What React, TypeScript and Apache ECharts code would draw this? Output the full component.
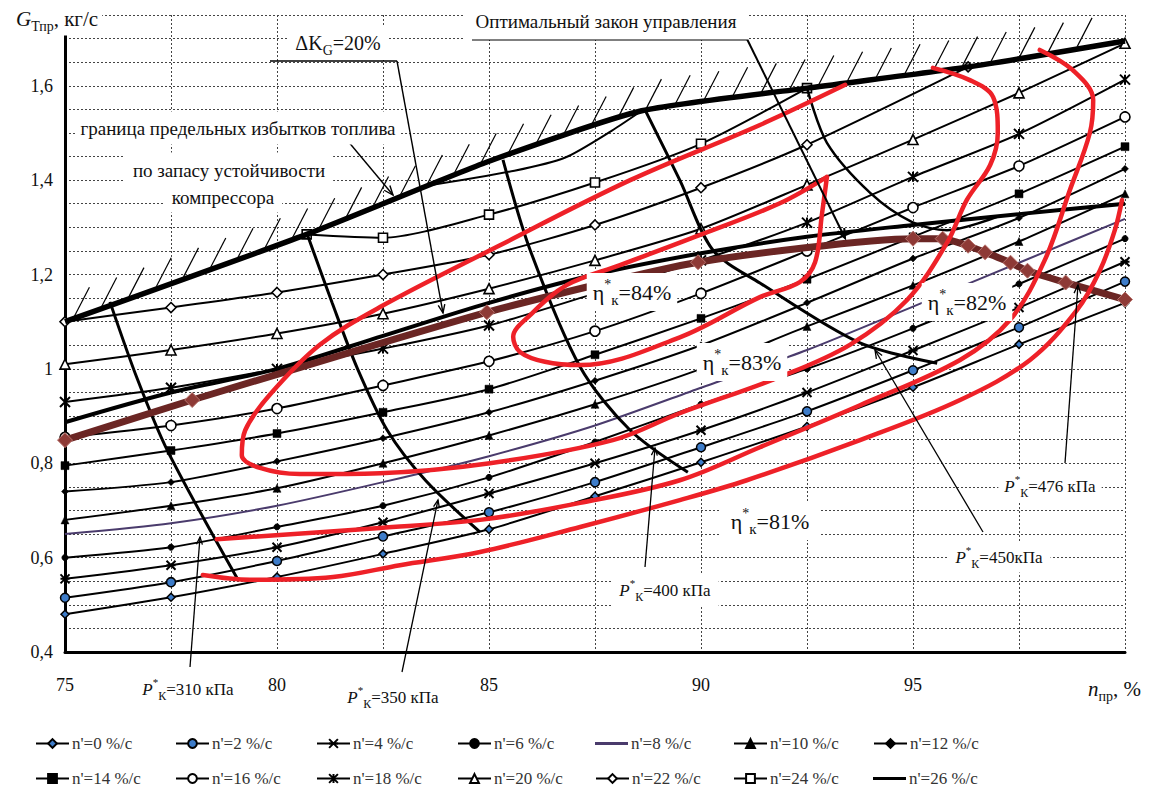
import React, { useEffect, useRef } from 'react';
import * as echarts from 'echarts';

const FONT = 'Liberation Serif';

// ---- n' series (relative speed of throttle), x = n_пр %, y = G_Тпр кг/с
const nX = [75, 77.5, 80, 82.5, 85, 87.5, 90, 92.5, 95, 97.5, 100];
const n0 = [0.48, 0.516, 0.559, 0.608, 0.66, 0.73, 0.802, 0.878, 0.961, 1.052, 1.14];
const n2 = [0.515, 0.548, 0.593, 0.645, 0.696, 0.76, 0.834, 0.91, 0.997, 1.088, 1.185];
const n4 = [0.555, 0.584, 0.622, 0.675, 0.736, 0.8, 0.87, 0.95, 1.039, 1.13, 1.227];
const n6 = [0.6, 0.622, 0.665, 0.71, 0.77, 0.845, 0.925, 1.0, 1.086, 1.18, 1.276];
const n8 = [0.65, 0.673, 0.71, 0.76, 0.815, 0.88, 0.96, 1.04, 1.132, 1.225, 1.318];
const n10 = [0.68, 0.71, 0.747, 0.8, 0.859, 0.925, 1.0, 1.09, 1.177, 1.27, 1.371];
const n12 = [0.74, 0.76, 0.804, 0.853, 0.908, 0.975, 1.05, 1.14, 1.234, 1.32, 1.424];
const n14 = [0.795, 0.827, 0.863, 0.908, 0.957, 1.03, 1.107, 1.19, 1.28, 1.371, 1.471];
const n16 = [0.855, 0.88, 0.916, 0.965, 1.016, 1.08, 1.16, 1.25, 1.342, 1.43, 1.534];
const n18 = [0.93, 0.96, 1.0, 1.043, 1.092, 1.16, 1.23, 1.31, 1.407, 1.498, 1.613];
const n20 = [1.01, 1.04, 1.075, 1.117, 1.17, 1.23, 1.297, 1.39, 1.486, 1.585, 1.69];
const n22X = [75, 77.5, 80, 82.5, 85, 87.5, 90, 92.5, 96.3];
const n22Y = [1.1, 1.13, 1.162, 1.2, 1.242, 1.305, 1.384, 1.475, 1.64];
const n24X = [80.7, 82.5, 85, 87.5, 90, 92.5];
const n24Y = [1.285, 1.278, 1.327, 1.395, 1.477, 1.595];
const n26X = [83.4, 85.6, 86.8, 87.9, 88.6];
const n26Y = [1.386, 1.42, 1.448, 1.505, 1.547];

const nNames = [
  "n'=0 %/с", "n'=2 %/с", "n'=4 %/с", "n'=6 %/с", "n'=8 %/с", "n'=10 %/с", "n'=12 %/с",
  "n'=14 %/с", "n'=16 %/с", "n'=18 %/с", "n'=20 %/с", "n'=22 %/с", "n'=24 %/с", "n'=26 %/с",
];

// ---- boundary, ΔK line, optimal law branch
const boundaryX = [75, 80.7, 85, 88.6, 92.5, 96.3, 100];
const boundaryY = [1.1, 1.285, 1.44, 1.547, 1.595, 1.64, 1.695];
const dKY = [0.887, 0.95, 1.0, 1.07, 1.14, 1.2, 1.245, 1.28, 1.305, 1.328, 1.35];
const optX = [92.5, 92.97, 93.99, 94.98, 95.8, 97.0];
const optY = [1.595, 1.479, 1.373, 1.311, 1.294, 1.323];

// ---- operating line (brown)
const brownX = [75, 78.0, 84.95, 89.93, 95, 95.7, 96.3, 96.7, 97.3, 97.7, 98.6, 100];
const brownY = [0.849, 0.934, 1.12, 1.226, 1.276, 1.276, 1.261, 1.247, 1.225, 1.208, 1.183, 1.147];

// ---- constant pressure lines
const p310X = [76.06, 76.7, 77.41, 79.08];
const p310Y = [1.142, 0.98, 0.828, 0.553];
const p350X = [80.71, 81.3, 81.9, 82.6, 83.5, 84.79];
const p350Y = [1.286, 1.14, 1.0, 0.87, 0.764, 0.654];
const p400X = [85.33, 85.97, 87.15, 88.33, 89.69];
const p400Y = [1.443, 1.252, 1.004, 0.87, 0.781];
const p450X = [88.68, 89.5, 90.28, 91.39, 93.75, 95.57];
const p450Y = [1.549, 1.4, 1.252, 1.182, 1.055, 1.012];

// ---- efficiency contours
const eta84X = [92.97, 91.86, 89.98, 88.09, 86.84, 85.97, 85.57, 85.73, 86.32, 87.15, 89.5, 91.39, 92.33, 92.69, 92.85, 92.97];
const eta84Y = [1.407, 1.351, 1.284, 1.22, 1.178, 1.114, 1.068, 1.036, 1.015, 1.008, 1.067, 1.152, 1.184, 1.226, 1.326, 1.407];
const eta83X = [93.4, 91.39, 88.33, 85.26, 82.43, 81.01, 79.83, 79.25, 79.17, 79.6, 80.54, 82.43, 85.02, 87.92, 89.5, 91.86, 93.51, 94.86, 95.8, 96.27, 96.82, 97.0, 96.89, 96.34, 95.47];
const eta83Y = [1.602, 1.517, 1.4, 1.262, 1.131, 1.051, 0.945, 0.87, 0.817, 0.79, 0.777, 0.779, 0.8, 0.849, 0.906, 0.983, 1.051, 1.146, 1.267, 1.358, 1.432, 1.5, 1.576, 1.612, 1.638];
const eta82X = [78.58, 82.43, 84.79, 87.15, 89.5, 91.39, 93.75, 96.11, 97.29, 98.11, 98.7, 99.17, 99.25, 98.77, 97.99];
const eta82Y = [0.639, 0.663, 0.68, 0.716, 0.764, 0.834, 0.923, 1.019, 1.104, 1.231, 1.379, 1.5, 1.57, 1.633, 1.676];
const eta81X = [78.25, 79.36, 81.32, 82.9, 84.79, 87.15, 89.5, 91.08, 93.75, 96.11, 97.76, 98.87, 99.41, 99.76, 99.93];
const eta81Y = [0.563, 0.553, 0.559, 0.584, 0.612, 0.665, 0.722, 0.764, 0.849, 0.934, 1.019, 1.125, 1.209, 1.294, 1.358];

const pairs = (xs: number[], ys: number[]) => xs.map((x, i) => [x, ys[i]]);

const STAR = 'path://M0,0L10,10M10,0L0,10M0,5L10,5';
const XMARK = 'path://M0,0L10,10M10,0L0,10M5,0L5,10';

const nStyles: any[] = [
  { symbol: 'diamond', size: 8, fill: '#3d7cc9', border: '#000', bw: 1.5 },
  { symbol: 'circle', size: 9, fill: '#3d7cc9', border: '#000', bw: 1.5 },
  { symbol: STAR, size: 9, fill: '#000', border: '#000', bw: 2 },
  { symbol: 'circle', size: 6, fill: '#000', border: '#000', bw: 1 },
  { symbol: 'none', size: 0, fill: '#4a3b6c', line: '#4a3b6c' },
  { symbol: 'triangle', size: 8, fill: '#000', border: '#000', bw: 0.5 },
  { symbol: 'diamond', size: 7, fill: '#000', border: '#000', bw: 0.5 },
  { symbol: 'rect', size: 8, fill: '#000', border: '#000', bw: 0.5 },
  { symbol: 'circle', size: 10, fill: '#fff', border: '#000', bw: 1.6 },
  { symbol: XMARK, size: 10, fill: '#000', border: '#000', bw: 2 },
  { symbol: 'triangle', size: 10, fill: '#fff', border: '#000', bw: 1.6 },
  { symbol: 'diamond', size: 10, fill: '#fff', border: '#000', bw: 1.6 },
  { symbol: 'rect', size: 9, fill: '#fff', border: '#000', bw: 1.6 },
  { symbol: 'none', size: 0, fill: '#000' },
];

const legendCols = [30, 170, 311, 452, 590, 728, 868];
const legendRows = [730, 765];

const richFor = (size: number) => ({
  t: { fontSize: size, fontFamily: FONT, fill: '#111', lineHeight: size + 8 },
  i: { fontSize: size, fontFamily: FONT, fontStyle: 'italic', fill: '#111', lineHeight: size + 8 },
  sup: { fontSize: Math.round(size * 0.62), fontFamily: FONT, fill: '#111', verticalAlign: 'top', lineHeight: Math.round(size * 0.62) },
  sub: { fontSize: Math.round(size * 0.68), fontFamily: FONT, fill: '#111', verticalAlign: 'bottom', lineHeight: Math.round(size * 0.68) },
});

const label = (x: number, y: number, text: string, size: number, extra: any = {}) => ({
  type: 'text', x, y, z: 100,
  style: {
    text, rich: richFor(size), fontFamily: FONT, fontSize: size, fill: '#111',
    align: 'center', verticalAlign: 'middle', backgroundColor: '#fff', padding: [3, 6],
    ...extra,
  },
});

const pointer = (pts: number[][], width = 1.3, headSize = 9) => {
  const n = pts.length;
  const [x1, y1] = pts[n - 2];
  const [x2, y2] = pts[n - 1];
  const a = Math.atan2(y2 - y1, x2 - x1);
  const h1 = [x2 - headSize * Math.cos(a - 0.38), y2 - headSize * Math.sin(a - 0.38)];
  const h2 = [x2 - headSize * Math.cos(a + 0.38), y2 - headSize * Math.sin(a + 0.38)];
  return [
    { type: 'polyline', z: 99, shape: { points: pts }, style: { stroke: '#000', lineWidth: width, fill: null } },
    { type: 'polyline', z: 99, shape: { points: [h1, [x2, y2], h2] }, style: { stroke: '#000', lineWidth: width, fill: null } },
  ];
};

export default function App() {
  const ref = useRef<HTMLDivElement>(null);
  useEffect(() => {
    if (!ref.current) return;
    const chart = echarts.init(ref.current, undefined, { renderer: 'svg' });

    const nData = [
      pairs(nX, n0), pairs(nX, n2), pairs(nX, n4), pairs(nX, n6), pairs(nX, n8), pairs(nX, n10), pairs(nX, n12),
      pairs(nX, n14), pairs(nX, n16), pairs(nX, n18), pairs(nX, n20), pairs(n22X, n22Y), pairs(n24X, n24Y), pairs(n26X, n26Y),
    ];

    const nSeries = nNames.map((name, k) => {
      const st = nStyles[k];
      return {
        name, type: 'line', data: nData[k], smooth: 0.25, z: 3,
        symbol: st.symbol, symbolSize: st.size, showSymbol: st.symbol !== 'none',
        lineStyle: { color: st.line || '#000', width: 2 },
        itemStyle: { color: st.fill, borderColor: st.border || st.fill, borderWidth: st.bw || 0 },
        emphasis: { disabled: true },
      };
    });

    const thick = (name: string, data: any[], width: number, z = 4, smooth: any = 0.3) => ({
      name, type: 'line', data, smooth, symbol: 'none', z,
      lineStyle: { color: '#000', width }, emphasis: { disabled: true },
    });

    const red = (name: string, data: any[]) => ({
      name, type: 'line', data, smooth: 0.35, symbol: 'none', z: 7,
      lineStyle: { color: '#ee2128', width: 4.5, cap: 'round', join: 'round' }, emphasis: { disabled: true },
    });

    const hatch = {
      name: 'hatch', type: 'custom', data: [[75, 1.1]], z: 4, silent: true, clip: false,
      renderItem: (params: any, api: any) => {
        if (params.dataIndex !== 0) return null;
        const pts = boundaryX.map((x, i) => api.coord([x, boundaryY[i]]));
        const children: any[] = [];
        const step = 29;
        let carry = 10;
        for (let i = 0; i < pts.length - 1; i++) {
          const [ax, ay] = pts[i];
          const [bx, by] = pts[i + 1];
          const len = Math.hypot(bx - ax, by - ay);
          let d = carry;
          while (d <= len) {
            const t = d / len;
            const px = ax + (bx - ax) * t;
            const py = ay + (by - ay) * t;
            if (px < 1100) {
              children.push({
                type: 'line',
                shape: { x1: px, y1: py - 2, x2: px + 15, y2: py - 31 },
                style: { stroke: '#000', lineWidth: 1.2 },
              });
            }
            d += step;
          }
          carry = d - len;
        }
        return { type: 'group', children };
      },
    };

    const series: any[] = [
      ...nSeries,
      thick('boundary', pairs(boundaryX, boundaryY), 5.5, 5, 0.2),
      thick('dK', pairs(nX, dKY), 4, 5),
      thick('opt', pairs(optX, optY), 2.5, 5),
      thick('p310', pairs(p310X, p310Y), 3, 5),
      thick('p350', pairs(p350X, p350Y), 3, 5),
      thick('p400', pairs(p400X, p400Y), 3, 5),
      thick('p450', pairs(p450X, p450Y), 3, 5),
      hatch,
      {
        name: 'operating', type: 'line', data: pairs(brownX, brownY), smooth: 0.2, z: 6,
        symbol: 'diamond', symbolSize: 15,
        lineStyle: { color: '#6b2624', width: 7 },
        itemStyle: { color: '#8e3a36', borderColor: '#b8746e', borderWidth: 1 },
        emphasis: { disabled: true },
      },
      red('eta84', pairs(eta84X, eta84Y)),
      red('eta83', pairs(eta83X, eta83Y)),
      red('eta82', pairs(eta82X, eta82Y)),
      red('eta81', pairs(eta81X, eta81Y)),
    ];

    const legends = nNames.map((name, k) => {
      const st = nStyles[k];
      const plain = st.symbol === 'none';
      return {
        left: legendCols[k % 7], top: legendRows[Math.floor(k / 7)],
        itemWidth: 33, itemHeight: plain ? 3 : 11, itemGap: 0, selectedMode: false,
        textStyle: { fontFamily: FONT, fontSize: 17, color: '#333', padding: [0, 0, 0, -2] },
        data: [plain ? { name, icon: 'rect', itemStyle: { color: st.line || '#000' } } : name],
      };
    });

    const graphic: any[] = [
      // axis titles
      {
        type: 'text', x: 12, y: 19, z: 100,
        style: { text: '{i|G}{sub|Тпр}{t|, кг/с}', rich: richFor(21), align: 'left', verticalAlign: 'middle', backgroundColor: '#fff', padding: [2, 4] },
      },
      {
        type: 'text', x: 1085, y: 689, z: 100,
        style: { text: '{i|n}{sub|пр}{t|, %}', rich: richFor(21), align: 'left', verticalAlign: 'middle', backgroundColor: '#fff', padding: [2, 3] },
      },
      // top annotations
      label(606, 21, '{t|Оптимальный закон управления}', 19, { padding: [5, 12] }),
      { type: 'line', z: 99, shape: { x1: 472, y1: 39, x2: 747, y2: 39 }, style: { stroke: '#000', lineWidth: 3 } },
      ...pointer([[747, 39], [845, 238]], 2, 10),
      label(338, 43, '{t|ΔK}{sub|G}{t|=20%}', 20, { padding: [3, 8] }),
      { type: 'line', z: 99, shape: { x1: 270, y1: 61, x2: 397, y2: 61 }, style: { stroke: '#000', lineWidth: 1.5 } },
      ...pointer([[397, 61], [443, 313]], 1.4, 9),
      label(238, 128, '{t|граница предельных избытков топлива}', 19, { padding: [3, 4] }),
      { type: 'line', z: 99, shape: { x1: 140, y1: 140, x2: 347, y2: 140 }, style: { stroke: '#000', lineWidth: 3 } },
      ...pointer([[347, 140], [393, 195]], 1.4, 10),
      label(229, 170, '{t|по запасу устойчивости}', 19, { padding: [4, 8] }),
      label(223, 197, '{t|компрессора}', 19, { padding: [2, 8] }),
      // efficiency labels
      label(632, 292, '{t|η}{sup|*}{sub|к}{t|=84%}', 22, { padding: [4, 6] }),
      label(742, 362, '{t|η}{sup|*}{sub|к}{t|=83%}', 22, { padding: [4, 6] }),
      label(967, 302, '{t|η}{sup|*}{sub|к}{t|=82%}', 22, { padding: [4, 6] }),
      label(770, 521, '{t|η}{sup|*}{sub|к}{t|=81%}', 22, { padding: [4, 10] }),
      // pressure labels
      ...pointer([[190, 667], [200, 537]], 1.3, 8),
      label(188, 689, '{i|P}{sup|*}{sub|К}{t|=310 кПа}', 17, { padding: [5, 10] }),
      ...pointer([[402, 672], [438, 500]], 1.3, 8),
      label(393, 697, '{i|P}{sup|*}{sub|К}{t|=350 кПа}', 17, { padding: [5, 8] }),
      ...pointer([[645, 567], [655, 448]], 1.3, 8),
      label(665, 590, '{i|P}{sup|*}{sub|К}{t|=400 кПа}', 17, { padding: [4, 8] }),
      ...pointer([[983, 532], [875, 350]], 1.3, 9),
      label(999, 557, '{i|P}{sup|*}{sub|К}{t|=450кПа}', 17, { padding: [3, 8] }),
      ...pointer([[1065, 463], [1078, 285]], 1.3, 9),
      label(1050, 486, '{i|P}{sup|*}{sub|К}{t|=476 кПа}', 17, { padding: [3, 6] }),
    ];

    chart.setOption({
      animation: false,
      backgroundColor: '#fff',
      textStyle: { fontFamily: FONT },
      grid: { left: 65, right: 24, top: 15, bottom: 151 },
      xAxis: {
        type: 'value', min: 75, max: 100, interval: 2.5,
        axisLine: { lineStyle: { color: '#000', width: 3 } },
        axisTick: { show: false },
        axisLabel: {
          margin: 24, fontFamily: FONT, fontSize: 18, color: '#111',
          formatter: (v: number) => (Math.round(v * 10) % 50 === 0 && v < 99.9 ? String(Math.round(v)) : ''),
        },
        splitLine: { show: true, lineStyle: { color: '#444', type: [2, 2], width: 1 } },
      },
      yAxis: {
        type: 'value', min: 0.4, max: 1.75, interval: 0.05,
        axisLine: { show: true, lineStyle: { color: '#000', width: 3 } },
        axisTick: { show: false },
        axisLabel: {
          margin: 12, fontFamily: FONT, fontSize: 18, color: '#111',
          formatter: (v: number) => {
            const k = Math.round(v * 100);
            if (k % 20 !== 0) return '';
            return String(k / 100).replace('.', ',');
          },
        },
        splitLine: { show: true, lineStyle: { color: '#444', type: [2, 2], width: 1 } },
      },
      legend: legends,
      series,
      graphic,
    });
    return () => chart.dispose();
  }, []);

  return <div ref={ref} style={{ position: 'fixed', left: 0, top: 0, width: 1149, height: 803, background: '#fff' }} />;
}
